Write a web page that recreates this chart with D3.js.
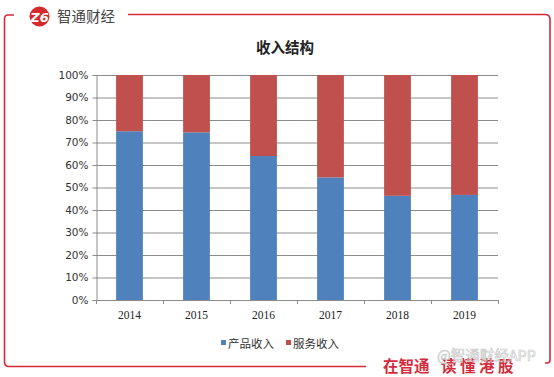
<!DOCTYPE html>
<html><head><meta charset="utf-8">
<script src="https://cdn.jsdelivr.net/npm/d3@7"></script>
<style>body{margin:0;background:#fff}svg{display:block}</style>
</head><body>
<script>
const years = ["2014","2015","2016","2017","2018","2019"];
const productShare = [75, 74.5, 64, 54.5, 46.3, 46.7];
const serviceShare = [25, 25.5, 36, 45.5, 53.7, 53.3];
const yTicks = [0,10,20,30,40,50,60,70,80,90,100];
const seriesNames = ["产品收入","服务收入"];
const colors = ["#4f81bd","#c0504d"];

const W = 554, H = 377;
const svg = d3.select("body").append("svg").attr("width", W).attr("height", H);
const red = "#d42b3c";

// frame
svg.append("path").attr("d","M14,15 H8 Q4.5,15 4.5,19 V362 Q4.5,366.5 9,366.5 H366")
  .attr("fill","none").attr("stroke",red).attr("stroke-width",1.6);
svg.append("path").attr("d","M128,14.5 H545 Q550,14.5 550,19.5 V360 Q550,363 547,363 H545")
  .attr("fill","none").attr("stroke",red).attr("stroke-width",1.6);

// logo
svg.append("circle").attr("cx",39.5).attr("cy",16.5).attr("r",10).attr("fill","#d42b2f");
svg.append("text").attr("x",39.5).attr("y",21.5).attr("text-anchor","middle")
  .attr("font-family","DejaVu Sans").attr("font-weight","bold").attr("font-style","italic")
  .attr("font-size",13).attr("fill","#fff").text("Z6");
svg.append("text").attr("x",57).attr("y",21.5).attr("font-family","Noto Sans CJK SC")
  .attr("font-size",14.5).attr("fill","#444").text("智通财经");

// title
svg.append("text").attr("x",285).attr("y",53).attr("text-anchor","middle")
  .attr("font-family","Noto Sans CJK SC").attr("font-weight","bold").attr("font-size",14.5)
  .attr("fill","#222").text("收入结构");

const x0 = 96, x1 = 498, yTop = 75, yBot = 300;
const x = d3.scaleBand().domain(years).range([x0,x1]).paddingInner(0.6).paddingOuter(0.3);
const y = d3.scaleLinear().domain([0,100]).range([yBot,yTop]);

// gridlines
svg.append("g").selectAll("line").data(yTicks.filter(d=>d>0)).join("line")
  .attr("x1",x0).attr("x2",x1).attr("y1",d=>y(d)+0.5).attr("y2",d=>y(d)+0.5)
  .attr("stroke","#8c8c8c").attr("stroke-width",1);

// bars
const stacked = years.map((yr,i)=>({yr, p:productShare[i], s:serviceShare[i]}));
const g = svg.append("g");
g.selectAll(".p").data(stacked).join("rect")
  .attr("x",d=>x(d.yr)).attr("width",x.bandwidth())
  .attr("y",d=>y(d.p)).attr("height",d=>y(0)-y(d.p)).attr("fill",colors[0]);
g.selectAll(".s").data(stacked).join("rect")
  .attr("x",d=>x(d.yr)).attr("width",x.bandwidth())
  .attr("y",d=>y(d.p+d.s)).attr("height",d=>y(d.p)-y(d.p+d.s)).attr("fill",colors[1]);

// y axis
const ya = svg.append("g").attr("transform",`translate(${x0+0.5},0)`)
  .call(d3.axisLeft(y).tickValues(yTicks).tickFormat(d=>d+"%").tickSize(4).tickPadding(4));
ya.select(".domain").attr("stroke","#8c8c8c");
ya.selectAll(".tick line").attr("stroke","#8c8c8c");
ya.selectAll("text").attr("font-family","DejaVu Sans").attr("font-size",10.5).attr("fill","#333");

// x axis
svg.append("line").attr("x1",x0).attr("x2",x1).attr("y1",yBot+0.5).attr("y2",yBot+0.5).attr("stroke","#8c8c8c");
const bounds = d3.range(years.length+1).map(i=>x0+i*(x1-x0)/years.length);
svg.append("g").selectAll("line").data(bounds).join("line")
  .attr("x1",d=>Math.round(d)+0.5).attr("x2",d=>Math.round(d)+0.5)
  .attr("y1",yBot).attr("y2",yBot+4).attr("stroke","#8c8c8c");
svg.append("g").selectAll("text").data(years).join("text")
  .attr("x",d=>x(d)+x.bandwidth()/2).attr("y",319).attr("text-anchor","middle")
  .attr("font-family","Liberation Serif").attr("font-size",11.5).attr("fill","#222").text(d=>d);

// legend
const legX = [221, 286];
seriesNames.forEach((n,i)=>{
  svg.append("rect").attr("x",legX[i]).attr("y",340).attr("width",5).attr("height",5).attr("fill",colors[i]);
  svg.append("text").attr("x",legX[i]+7).attr("y",347.5).attr("font-family","Noto Sans CJK SC")
    .attr("font-size",11.5).attr("fill","#333").text(n);
});

// footer slogan
svg.append("text").attr("x",383).attr("y",372).attr("font-family","Noto Sans CJK SC")
  .attr("font-weight","bold").attr("font-size",15.5).attr("fill","#d42b3c").text("在智通");
svg.append("text").attr("x",441).attr("y",372).attr("font-family","Noto Sans CJK SC")
  .attr("font-weight","bold").attr("font-size",15.5).attr("fill","#d42b3c")
  .attr("letter-spacing",3.5).text("读懂港股");
// watermark
svg.append("text").attr("x",437).attr("y",361).attr("font-family","Noto Sans CJK SC")
  .attr("font-size",14.5).attr("fill","none").attr("stroke","#c8c8c8").attr("stroke-width",0.7)
  .attr("opacity",0.9).text("@智通财经APP");
</script>
</body></html>
